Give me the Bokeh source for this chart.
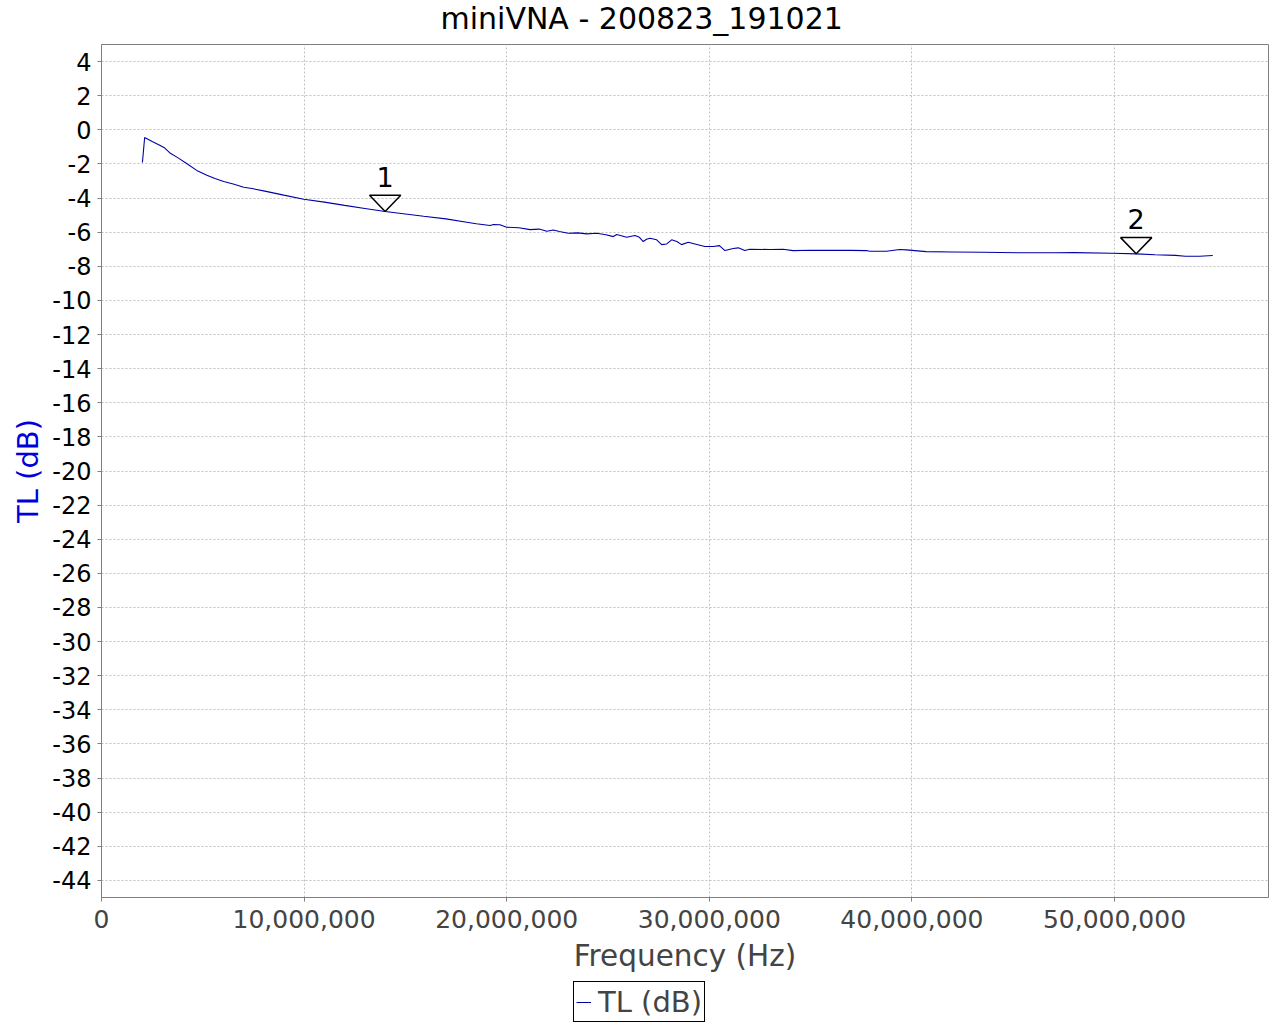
from bokeh.plotting import figure
from bokeh.layouts import column
from bokeh.models import (Range1d, NumeralTickFormatter, PrintfTickFormatter, FixedTicker,
                          Title, Legend, LegendItem, ColumnDataSource)
from bokeh.embed import file_html
from bokeh.resources import INLINE
from bokeh.core.properties import value

# ---------------- data ----------------
title_text = "miniVNA - 200823_191021"
x_label = "Frequency (Hz)"
y_label = "TL (dB)"
series_name = "TL (dB)"

freq_mhz = [2.02, 2.13, 2.5, 2.9, 3.1, 3.4, 3.8, 4.2, 4.7, 5.2, 5.6, 6.03, 6.5, 7.02, 7.5,
            8.0, 9.0, 9.98, 11.0, 12.0, 13.0, 14.0, 15.0, 15.9, 17.0, 18.03, 18.5, 19.18,
            19.35, 19.67, 20.0, 20.6, 21.15, 21.6, 21.98, 22.3, 22.6, 23.04, 23.5, 23.95,
            24.44, 24.9, 25.26, 25.43, 25.92, 26.33, 26.55, 26.74, 26.9, 27.07, 27.4, 27.65,
            27.9, 28.14, 28.4, 28.63, 28.96, 29.29, 29.78, 30.2, 30.5, 30.77, 31.18, 31.43,
            31.75, 32.0, 33.0, 33.64, 34.14, 35.0, 36.0, 37.0, 37.76, 37.92, 38.74, 39.4,
            39.73, 40.7, 42.0, 43.5, 45.5, 47.0, 48.0, 49.9, 51.07, 52.0, 53.0, 53.5, 54.2,
            54.85]
tl_db = [-1.92, -0.45, -0.68, -0.92, -1.05, -1.38, -1.66, -1.98, -2.38, -2.66, -2.86, -3.03,
         -3.18, -3.37, -3.46, -3.58, -3.83, -4.07, -4.24, -4.43, -4.61, -4.79, -4.94, -5.07,
         -5.22, -5.42, -5.51, -5.61, -5.55, -5.57, -5.71, -5.74, -5.85, -5.82, -5.95, -5.87,
         -5.96, -6.06, -6.04, -6.10, -6.06, -6.15, -6.26, -6.14, -6.30, -6.20, -6.30, -6.55,
         -6.42, -6.36, -6.45, -6.73, -6.69, -6.45, -6.55, -6.73, -6.59, -6.69, -6.84, -6.84,
         -6.79, -7.08, -6.96, -6.92, -7.08, -7.00, -7.02, -7.00, -7.08, -7.06, -7.07, -7.07,
         -7.08, -7.12, -7.12, -7.02, -7.04, -7.14, -7.16, -7.18, -7.21, -7.21, -7.20, -7.24,
         -7.27, -7.32, -7.36, -7.41, -7.41, -7.37]

marker_labels = ["1", "2"]
marker_freq_mhz = [14.0, 51.07]
marker_db = [-4.79, -7.27]

x_ticks = [0, 10000000, 20000000, 30000000, 40000000, 50000000]
y_ticks = [4, 2, 0, -2, -4, -6, -8, -10, -12, -14, -16, -18, -20, -22, -24, -26, -28, -30,
           -32, -34, -36, -38, -40, -42, -44]

# ---------------- styles ----------------
FONT = "DejaVu Sans"
LINE_COLOR = "#0000a8"
AXIS_GRAY = "#808080"
TEXT_GRAY = "#444444"
TRI_HALF_W_HZ = 0.77e6
TRI_H_DB = 0.95


def strip(height):
    s = figure(width=1280, height=height, output_backend="svg", toolbar_location=None,
               x_axis_location=None, y_axis_location=None,
               x_range=Range1d(0, 1), y_range=Range1d(0, 1), min_border=0)
    s.outline_line_color = None
    s.background_fill_color = "white"
    s.border_fill_color = "white"
    s.grid.visible = False
    s.title.visible = False
    return s


# ---------------- title strip ----------------
head = strip(44)
head.add_layout(Title(text=title_text, align="left", offset=339, vertical_align="top",
                      standoff=1, text_font=FONT, text_font_size="30px",
                      text_font_style="normal", text_color="black"), "above")

# ---------------- main chart ----------------
p = figure(width=1280, height=937, output_backend="svg", toolbar_location=None,
           x_range=Range1d(0, 57.6e6), y_range=Range1d(-45, 5),
           min_border_left=101, min_border_right=12, min_border_top=0, min_border_bottom=84)
p.background_fill_color = "white"
p.border_fill_color = "white"
p.outline_line_color = AXIS_GRAY
p.outline_line_width = 1
p.title.visible = False

xa = p.xaxis[0]
xa.ticker = FixedTicker(ticks=x_ticks)
xa.formatter = NumeralTickFormatter(format="0,0")
xa.axis_label = x_label
xa.axis_label_text_font = FONT
xa.axis_label_text_font_size = "29.5px"
xa.axis_label_text_font_style = "normal"
xa.axis_label_text_color = TEXT_GRAY
xa.axis_label_standoff = 8
xa.major_label_text_font = FONT
xa.major_label_text_font_size = "25px"
xa.major_label_text_color = TEXT_GRAY
xa.major_label_standoff = 8
xa.axis_line_color = AXIS_GRAY
xa.major_tick_line_color = AXIS_GRAY
xa.major_tick_out = 4
xa.major_tick_in = 0
xa.minor_tick_line_color = None

ya = p.yaxis[0]
ya.ticker = FixedTicker(ticks=y_ticks)
ya.formatter = PrintfTickFormatter(format="%d")
ya.axis_label = y_label
ya.axis_label_text_font = FONT
ya.axis_label_text_font_size = "29px"
ya.axis_label_text_font_style = "normal"
ya.axis_label_text_color = "#0000dd"
ya.axis_label_standoff = 4
ya.major_label_text_font = FONT
ya.major_label_text_font_size = "24px"
ya.major_label_text_color = "black"
ya.major_label_standoff = 6
ya.axis_line_color = AXIS_GRAY
ya.major_tick_line_color = AXIS_GRAY
ya.major_tick_out = 4
ya.major_tick_in = 0
ya.minor_tick_line_color = None

for g in (p.xgrid[0], p.ygrid[0]):
    g.grid_line_color = "#c0c0c0"
    g.grid_line_dash = "2 2"
    g.grid_line_width = 1

src = ColumnDataSource(dict(f=[v * 1e6 for v in freq_mhz], db=tl_db))
r = p.line(x="f", y="db", source=src, line_color=LINE_COLOR, line_width=1.1)

# marker triangles (tip at the marker point)
tri_xs, tri_ys = [], []
for fm, d in zip(marker_freq_mhz, marker_db):
    f = fm * 1e6
    tri_xs.append([f - TRI_HALF_W_HZ, f + TRI_HALF_W_HZ, f])
    tri_ys.append([d + TRI_H_DB, d + TRI_H_DB, d])
p.patches(xs=tri_xs, ys=tri_ys, fill_color="white", fill_alpha=0.0,
          line_color="black", line_width=1.5)

msrc = ColumnDataSource(dict(f=[v * 1e6 for v in marker_freq_mhz], db=marker_db,
                             t=marker_labels))
p.text(x="f", y="db", text="t", source=msrc, text_align="center",
       text_baseline="alphabetic", y_offset=-35, text_font=value(FONT),
       text_font_size="27px", text_color="black")

# ---------------- legend strip ----------------
lg = strip(43)
key = lg.line(x=[2], y=[2], line_color=LINE_COLOR, line_width=1)
legend = Legend(items=[LegendItem(label=series_name, renderers=[key])], location=(472, 2),
                border_line_color="black", border_line_width=1, border_line_alpha=1.0,
                background_fill_color="white", background_fill_alpha=1.0,
                padding=2, margin=0, spacing=0, glyph_width=15, glyph_height=20,
                label_standoff=7, label_height=35, label_text_font=FONT,
                label_text_font_size="29px", label_text_color=TEXT_GRAY)
lg.add_layout(legend)

layout = column(head, p, lg, spacing=0)
open("out.html", "w").write(file_html(layout, INLINE))
